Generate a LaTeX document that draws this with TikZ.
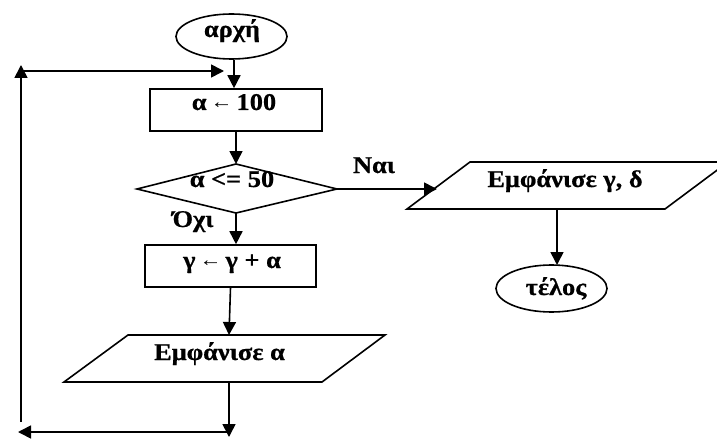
\documentclass[tikz,border=0pt]{standalone}
\usepackage{fontspec}
\setmainfont{Liberation Serif}[FakeStretch=1.1, BoldFeatures={FakeBold=0.6}]
\usetikzlibrary{arrows.meta,shapes.geometric}
% thin, small assignment arrow as used inside the boxes
\newcommand{\assignarrow}{\raisebox{1.5pt}{\mdseries\fontsize{20}{22}\selectfont ←}}

\begin{document}
\begin{tikzpicture}[x=1pt,y=-1pt,
  edge/.style={line width=1.6pt},
  flow/.style={edge, -{Triangle[length=13pt,width=13pt]}},
  term/.style={ellipse, draw, line width=1.6pt, minimum width=111pt, inner sep=0pt},
  proc/.style={rectangle, draw, line width=1.6pt, inner sep=0pt},
  lbl/.style={font=\fontsize{24}{28}\selectfont\bfseries, anchor=base, inner sep=0pt}]
  \useasboundingbox (0,0) rectangle (717,441);
  \clip (0,0) rectangle (717,441);

  % terminals and process boxes
  \node[term, minimum height=45pt] (start) at (231.5,36.5) {};
  \node[proc, minimum width=172pt, minimum height=42pt] (init) at (236,110) {};
  \node[proc, minimum width=171pt, minimum height=42pt] (accum) at (230.5,266) {};
  \node[term, minimum height=47pt] (stop) at (551.5,288.5) {};

  % decision
  \coordinate (dL) at (137,189);
  \coordinate (dT) at (236,164);
  \coordinate (dR) at (337,189);
  \coordinate (dB) at (236,213);
  \draw[edge, line join=miter] (dL) -- (dT) -- (dR) -- (dB) -- cycle;

  % output boxes (parallelograms)
  \draw[edge] (64,382) -- (128,335) -- (385,335) -- (322,382) -- cycle;
  \draw[edge] (407,209) -- (470,162) -- (728,162) -- (665,209) -- cycle;
  \coordinate (outAtop) at (229,335);
  \coordinate (outAbot) at (229,382);
  \coordinate (outBin) at (437,189);
  \coordinate (outBbot) at (557,210);
  \coordinate (stopTop) at (557,265);

  % loop-back route
  \coordinate (joinTop) at (234,71);
  \coordinate (joinBot) at (229,437);
  \coordinate (bendBot) at (229,432);
  \coordinate (leftEnd) at (18,432);
  \coordinate (loopFoot) at (21,422);
  \coordinate (loopHead) at (21,65);
  \coordinate (loopCorner) at (21,71);
  \coordinate (loopTip) at (224,71);

  % texts
  \node[lbl] (tStart) at (232,37) {αρχή};
  \node[lbl] (tInit) at (234,110) {α\,\assignarrow\,100};
  \node[lbl] (tCond) at (232,187) {α <= 50};
  \node[lbl] (tNo) at (193,227) {Όχι};
  \node[lbl] (tYes) at (374,173) {Ναι};
  \node[lbl] (tOutB) at (565,187) {Εμφάνισε γ, δ};
  \node[lbl] (tAccum) at (232,268) {γ\,\assignarrow\,γ + α};
  \node[lbl] (tOutA) at (219.5,360) {Εμφάνισε α};
  \node[lbl] (tStop) at (556,295) {τέλος};

  % connectors
  \draw[flow] (start.south -| joinTop) -- (init.north -| joinTop);
  \draw[flow] (init.south -| dT) -- (dT);
  \draw[flow] (dB) -- (accum.north -| dB);
  \draw[flow] (accum.south) -- (outAtop);
  \draw[flow] (outAbot) -- (joinBot);
  \draw[flow] (bendBot) -- (leftEnd);
  \draw[flow] (loopFoot) -- (loopHead);
  \draw[flow] (loopCorner) -- (loopTip);
  \draw[flow] (dR) -- (outBin);
  \draw[flow] (outBbot) -- (stopTop);
\end{tikzpicture}
\end{document}
